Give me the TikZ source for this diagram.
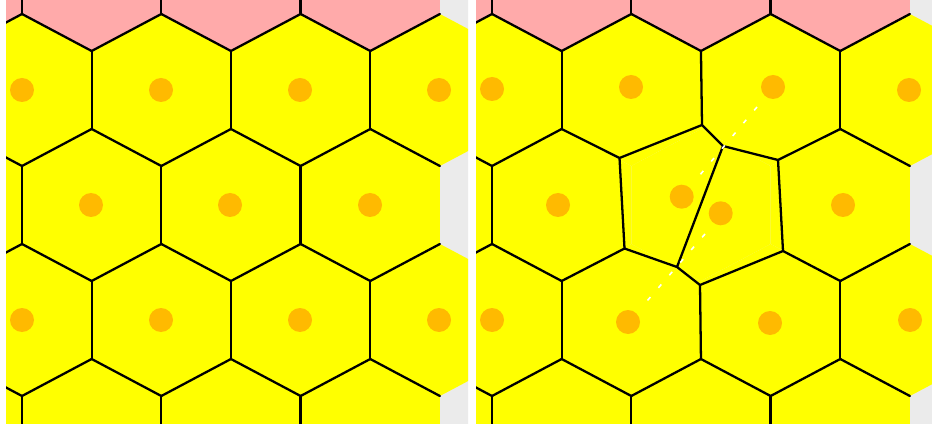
\documentclass[tikz,border=0pt]{standalone}
\usetikzlibrary{calc}
\definecolor{cellyellow}{RGB}{255,255,0}
\definecolor{cellpink}{RGB}{255,170,170}
\definecolor{seedorange}{RGB}{255,186,0}
\definecolor{voidgrey}{RGB}{235,235,235}

\begin{document}
\begin{tikzpicture}[x=0.02cm,y=-0.02cm,
  rim/.style={black,line width=1.3pt,line cap=round,line join=round},
  seed/.style={fill=seedorange},
  trail/.style={white,line width=0.9pt,dash pattern=on 2.5pt off 7pt}]
% one unit is one pixel of the figure, y runs downwards
\useasboundingbox (0,0) rectangle (932,425);
\fill[white] (0,0) rectangle (932,425);
\def\hexw{69.65}\def\hexh{76}\def\hexs{39}

% centre of cell k in row j; odd rows sit half a cell to the left
\newcommand{\cellxy}[2]{%
  \pgfmathsetmacro\cx{22+139.3*#1-\hexw*mod(#2+2,2)}%
  \pgfmathsetmacro\cy{90+115*#2}}
\newcommand{\hexfill}[3]{\cellxy{#1}{#2}%
  \fill[#3] (\cx,{\cy-\hexh}) -- ({\cx+\hexw},{\cy-\hexs}) -- ({\cx+\hexw},{\cy+\hexs})
    -- (\cx,{\cy+\hexh}) -- ({\cx-\hexw},{\cy+\hexs}) -- ({\cx-\hexw},{\cy-\hexs}) -- cycle;}
\newcommand{\rimL}[2]{\cellxy{#1}{#2}%
  \draw[rim] ({\cx-\hexw},{\cy-\hexs}) -- ({\cx-\hexw},{\cy+\hexs});}
\newcommand{\rimUL}[2]{\cellxy{#1}{#2}%
  \draw[rim] ({\cx-\hexw},{\cy-\hexs}) -- (\cx,{\cy-\hexh});}
\newcommand{\rimUR}[2]{\cellxy{#1}{#2}%
  \draw[rim] (\cx,{\cy-\hexh}) -- ({\cx+\hexw},{\cy-\hexs});}
\newcommand{\cellfills}{%
  \fill[voidgrey] (0,0) rectangle (470,425);
  \foreach \k in {0,...,3}{\hexfill{\k}{-1}{cellpink}}
  \foreach \j in {0,...,3}{\foreach \k in {0,...,3}{\hexfill{\k}{\j}{cellyellow}}}}

% left: the regular lattice
\begin{scope}
  \clip (6,0) rectangle (468,423);
  \cellfills
  \foreach \j in {-1,...,3}{\foreach \k in {0,...,3}{%
    \rimL{\k}{\j}\rimUL{\k}{\j}%
    \ifodd\j\relax\rimUR{\k}{\j}\else\ifnum\k<3\relax\rimUR{\k}{\j}\fi\fi}}
  \foreach \x/\y in {22/90,161/90,300/90,439/90,91/205,230/205,370/205,
                     22/320,161/320,300/320,439/320}
    {\fill[seed] (\x,\y) circle[radius=12];}
\end{scope}

% right: the middle cell split in two
\begin{scope}[shift={(470,0)}]
  \clip (6,0) rectangle (462,423);
  \cellfills
  % lattice edges away from the split
  \foreach \k/\j in {0/-1,1/-1,2/-1,3/-1,0/0,1/0,3/0,0/1,1/1,
                     0/2,1/2,3/2,0/3,1/3,2/3,3/3}{\rimL{\k}{\j}}
  \foreach \k/\j in {0/-1,1/-1,2/-1,3/-1,0/0,1/0,2/0,3/0,0/1,1/1,
                     0/2,3/2,0/3,1/3,2/3,3/3}{\rimUL{\k}{\j}}
  \foreach \k/\j in {0/-1,1/-1,2/-1,3/-1,0/0,1/0,2/0,0/1,3/1,
                     0/2,0/3,1/3,2/3,3/3}{\rimUR{\k}{\j}}

  % moved vertices round the split and the lattice corners they reach
  \coordinate (v1) at (232,125);   \coordinate (v2) at (253,146);
  \coordinate (v3) at (308,160);   \coordinate (v4) at (313,251);
  \coordinate (v5) at (230,285);   \coordinate (v6) at (207,267);
  \coordinate (v7) at (154.5,248.5); \coordinate (v8) at (149.5,158);
  \coordinate (o1) at (230.95,51);  \coordinate (o2) at (370.25,129);
  \coordinate (o3) at (370.25,281); \coordinate (o4) at (230.95,359);
  \coordinate (o5) at (91.65,281);  \coordinate (o6) at (91.65,129);
  \draw[rim] (o1) -- (v1) -- (v2) -- (v3) -- (v4) -- (v5) -- (v6) -- (v7) -- (v8) -- (v1)
    (v2) -- (v6) (v3) -- (o2) (v4) -- (o3) (v5) -- (o4) (v7) -- (o5) (v8) -- (o6);

  \foreach \x/\y in {22/89,161/87,303/87,439/90,88/205,211.7/196.7,250.7/213.3,
                     373/205,22/320,158/322,300/323,440/320}
    {\fill[seed] (\x,\y) circle[radius=12];}

  % faint guide through the two new seeds
  \coordinate (t1) at (287,107); \coordinate (t2) at (229,176);
  \coordinate (t3) at (235,234); \coordinate (t4) at (177,301);
  \draw[trail] (t1) -- (t2);
  \draw[trail] (t3) -- (t4);
\end{scope}
\end{tikzpicture}
\end{document}
